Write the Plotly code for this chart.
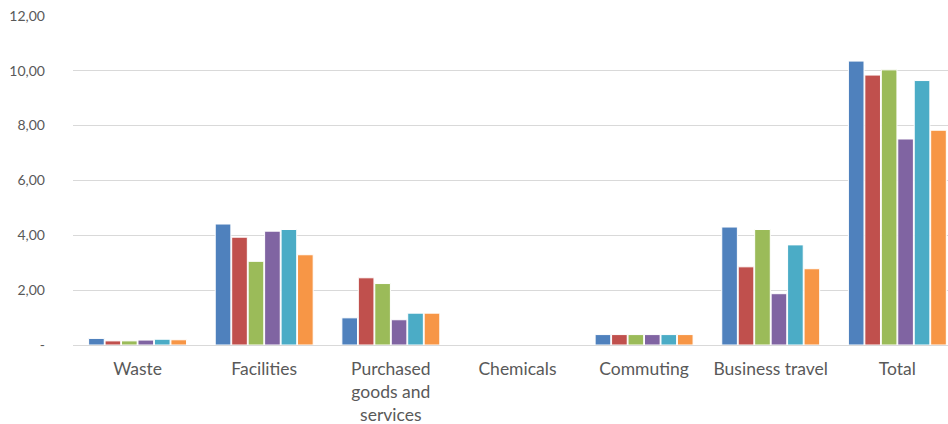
import plotly.graph_objects as go

categories = ["Waste", "Facilities", "Purchased<br>goods and<br>services", "Chemicals",
              "Commuting", "Business travel", "Total"]
series_names = ["S1", "S2", "S3", "S4", "S5", "S6"]
s1 = [0.24, 4.41, 0.99, 0.0, 0.38, 4.30, 10.35]
s2 = [0.15, 3.93, 2.45, 0.0, 0.38, 2.85, 9.84]
s3 = [0.15, 3.05, 2.24, 0.0, 0.38, 4.21, 10.03]
s4 = [0.18, 4.15, 0.92, 0.0, 0.38, 1.87, 7.51]
s5 = [0.21, 4.21, 1.16, 0.0, 0.38, 3.65, 9.64]
s6 = [0.19, 3.29, 1.16, 0.0, 0.38, 2.78, 7.83]
series_values = [s1, s2, s3, s4, s5, s6]
colors = ["#4F81BD", "#C0504D", "#9BBB59", "#8064A2", "#4BACC6", "#F79646"]
tick_vals = [0, 2, 4, 6, 8, 10, 12]
tick_text = ["-", "2,00", "4,00", "6,00", "8,00", "10,00", "12,00"]

fig = go.Figure()
for name, vals, c in zip(series_names, series_values, colors):
    fig.add_trace(go.Bar(x=categories, y=vals, name=name, marker_color=c,
                         marker_line_color="white", marker_line_width=1))

fig.update_layout(
    width=948, height=424,
    margin=dict(l=73, r=0, t=15, b=79, autoexpand=False),
    paper_bgcolor="white", plot_bgcolor="white",
    barmode="group", bargap=0.22, bargroupgap=0.05,
    showlegend=False,
    font=dict(family="Lato", size=16, color="#595959"),
    xaxis=dict(range=[-0.51, 6.40], showgrid=False, showline=True, linecolor="#D9D9D9",
               linewidth=1, ticks="", ticklabelstandoff=8,
               tickfont=dict(size=17.5, color="#595959")),
    yaxis=dict(range=[0, 12.03], tickvals=tick_vals, ticktext=tick_text,
               showgrid=True, gridcolor="#D9D9D9", gridwidth=1, zeroline=False,
               showline=False, ticks="", ticklabelstandoff=27,
               tickfont=dict(size=14, color="#595959")),
)

fig.write_html("out.html", config={"displayModeBar": False},
               post_script="document.body.style.margin='0';document.body.style.overflow='hidden';")
